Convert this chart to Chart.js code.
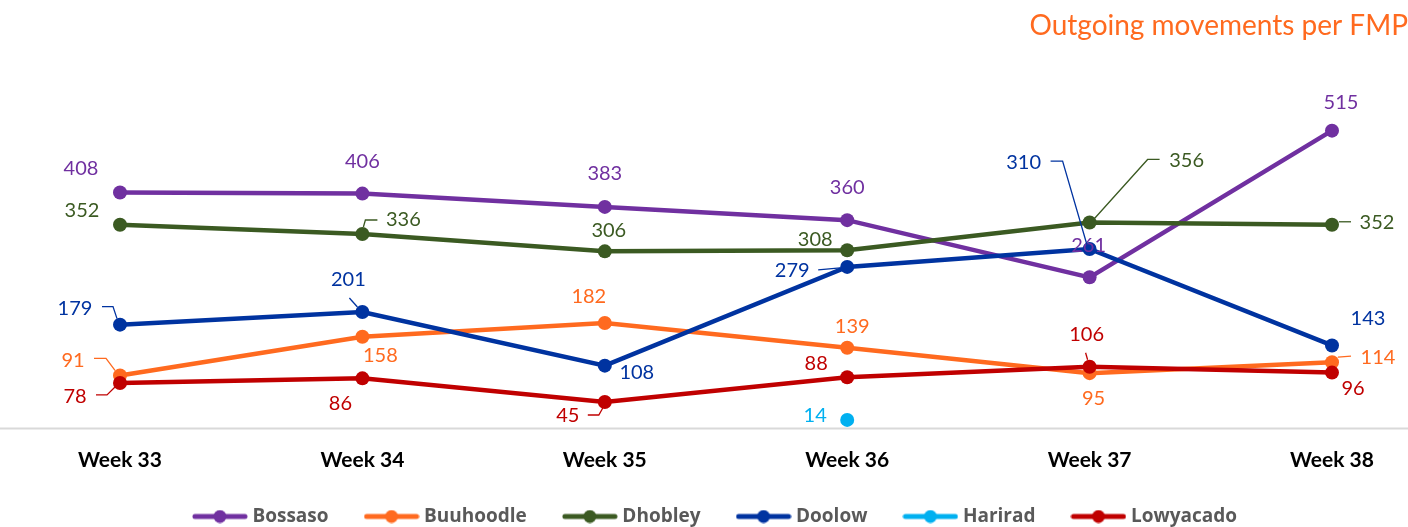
<!DOCTYPE html>
<html><head><meta charset="utf-8">
<script src="https://cdn.jsdelivr.net/npm/chart.js@4/dist/chart.umd.min.js"></script>
<style>html,body{margin:0;padding:0;background:#fff;overflow:hidden}</style>
</head><body>
<canvas id="c" width="1408" height="527"></canvas>
<script>
const categories = ['Week 33','Week 34','Week 35','Week 36','Week 37','Week 38'];
const seriesNames = ['Bossaso','Buuhoodle','Dhobley','Doolow','Harirad','Lowyacado'];
const bossaso   = [408, 406, 383, 360, 261, 515];
const buuhoodle = [91, 158, 182, 139, 95, 114];
const dhobley   = [352, 336, 306, 308, 356, 352];
const doolow    = [179, 201, 108, 279, 310, 143];
const harirad   = [null, null, null, 14, null, null];
const lowyacado = [78, 86, 45, 88, 106, 96];
const titleText = 'Outgoing movements per FMP';

const colors = ['#7030A0','#FF6A1F','#3B5A22','#0033A0','#00B0F0','#C00000'];
const seriesData = [bossaso, buuhoodle, dhobley, doolow, harirad, lowyacado];

// label placement relative to each point: [dx, dy] of label centre, optional leader polyline
const labelPos = [
  [[-39,-24],[0,-32],[0,-33],[0,-33],[-1,-32],[9,-28]],
  [[-47,-15],[18,19],[-16,-26],[5,-21],[4,25],[46,-5]],
  [[-38,-14],[41,-14],[4,-21],[-32,-11],[97,-62],[45,-2]],
  [[-45,-16],[-14,-32],[32,7],[-55,4],[-66,-86],[36,-27]],
  [null,null,null,[-32,-4],null,null],
  [[-45,14],[-22,25],[-37,14],[-31,-14],[-3,-32],[21,16]]
];
const leaders = [
  [null,null,null,null,null,null],
  [[[-26,-17],[-14,-17],[-5,-5]],null,null,null,null,[[6,-5],[19,-6]]],
  [null,[[15,-14],[3,-14],[1,-7]],null,null,[[70,-63],[58,-63],[4,-3]],[[7,-3],[19,-3]]],
  [[[-18,-18],[-7,-18],[-3,-6]],[[-13,-14],[-5,-5]],null,[[-29,3],[-7,1]],[[-39,-88],[-27,-88],[-2,-2]],null],
  [null,null,null,null,null,null],
  [[[-24,12],[-13,12],[-5,4]],null,[[-17,13],[-6,13],[-2,6]],null,[[-4,-14],[-2,-7]],null]
];

function legendIcon(color){
  const c = document.createElement('canvas');
  c.width = 56; c.height = 14;
  const g = c.getContext('2d');
  g.strokeStyle = color; g.lineWidth = 5; g.lineCap = 'round';
  g.beginPath(); g.moveTo(3,7); g.lineTo(53,7); g.stroke();
  g.fillStyle = color; g.beginPath(); g.arc(28,7,6.5,0,Math.PI*2); g.fill();
  return c;
}
const icons = colors.map(legendIcon);

const baselinePlugin = {
  id:'baseline',
  afterLayout(chart){
    if (chart.legend) { chart.legend.left += 13; chart.legend.right += 13; }
  },
  beforeDatasetsDraw(chart){
    const y = Math.round(chart.scales.y.getPixelForValue(0)) + 0.5;
    const ctx = chart.ctx;
    ctx.save(); ctx.strokeStyle = '#D9D9D9'; ctx.lineWidth = 2;
    ctx.beginPath(); ctx.moveTo(0,y); ctx.lineTo(chart.width,y); ctx.stroke(); ctx.restore();
  }
};
const labelPlugin = {
  id:'vlabels',
  afterDatasetsDraw(chart){
    const ctx = chart.ctx;
    ctx.save();
    ctx.font = '20px Lato';
    ctx.textAlign = 'center'; ctx.textBaseline = 'middle';
    chart.data.datasets.forEach((ds, i) => {
      const meta = chart.getDatasetMeta(i);
      ds.data.forEach((v, j) => {
        if (v === null || !labelPos[i][j]) return;
        const pt = meta.data[j];
        const ld = leaders[i][j];
        if (ld) {
          ctx.strokeStyle = colors[i]; ctx.lineWidth = 1.3;
          ctx.beginPath();
          ld.forEach((p, k) => { const px = pt.x + p[0], py = pt.y + p[1]; k ? ctx.lineTo(px,py) : ctx.moveTo(px,py); });
          ctx.stroke();
        }
        ctx.fillStyle = colors[i];
        ctx.fillText(String(v), pt.x + labelPos[i][j][0], pt.y + labelPos[i][j][1]);
      });
    });
    ctx.restore();
  }
};

const datasets = seriesNames.map((name, i) => ({
  label: name,
  data: seriesData[i],
  borderColor: colors[i],
  backgroundColor: colors[i],
  pointBackgroundColor: colors[i],
  pointBorderWidth: 0,
  pointRadius: 7,
  pointHoverRadius: 7,
  borderWidth: 4.5,
  tension: 0,
  spanGaps: false,
  order: seriesNames.length - 1 - i
}));

new Chart(document.getElementById('c'), {
  type: 'line',
  data: { labels: categories, datasets },
  options: {
    responsive: false,
    animation: false,
    devicePixelRatio: 1,
    layout: { padding: 0 },
    scales: {
      x: {
        grid: { display: false }, border: { display: false },
        ticks: { color: '#000', font: { family: 'Lato', size: 21, weight: 'bold' }, padding: 12, maxRotation: 0 },
        afterFit(s){ s.height = 39; }
      },
      y: {
        min: 0, max: 600, position: 'left',
        grid: { display: false }, border: { display: false },
        ticks: { display: false },
        afterFit(s){ s.width = 120; }
      },
      y2: {
        min: 0, max: 600, position: 'right',
        grid: { display: false }, border: { display: false },
        ticks: { display: false },
        afterFit(s){ s.width = 76; }
      }
    },
    plugins: {
      tooltip: { enabled: false },
      title: {
        display: true, text: titleText, align: 'end', color: '#FF6A1F',
        font: { family: 'Lato', size: 28, weight: 'normal' },
        padding: { top: 9, bottom: 39 }
      },
      legend: {
        position: 'bottom',
        maxHeight: 60,
        labels: {
          usePointStyle: true, pointStyleWidth: 46, padding: 40,
          color: '#595959', font: { family: 'Open Sans', size: 19, weight: 'bold' },
          sort: (a, b) => a.datasetIndex - b.datasetIndex,
          generateLabels(chart){
            const items = Chart.defaults.plugins.legend.labels.generateLabels(chart);
            items.forEach(it => { it.pointStyle = icons[it.datasetIndex]; });
            return items;
          }
        }
      }
    }
  },
  plugins: [baselinePlugin, labelPlugin]
});
</script>
</body></html>
